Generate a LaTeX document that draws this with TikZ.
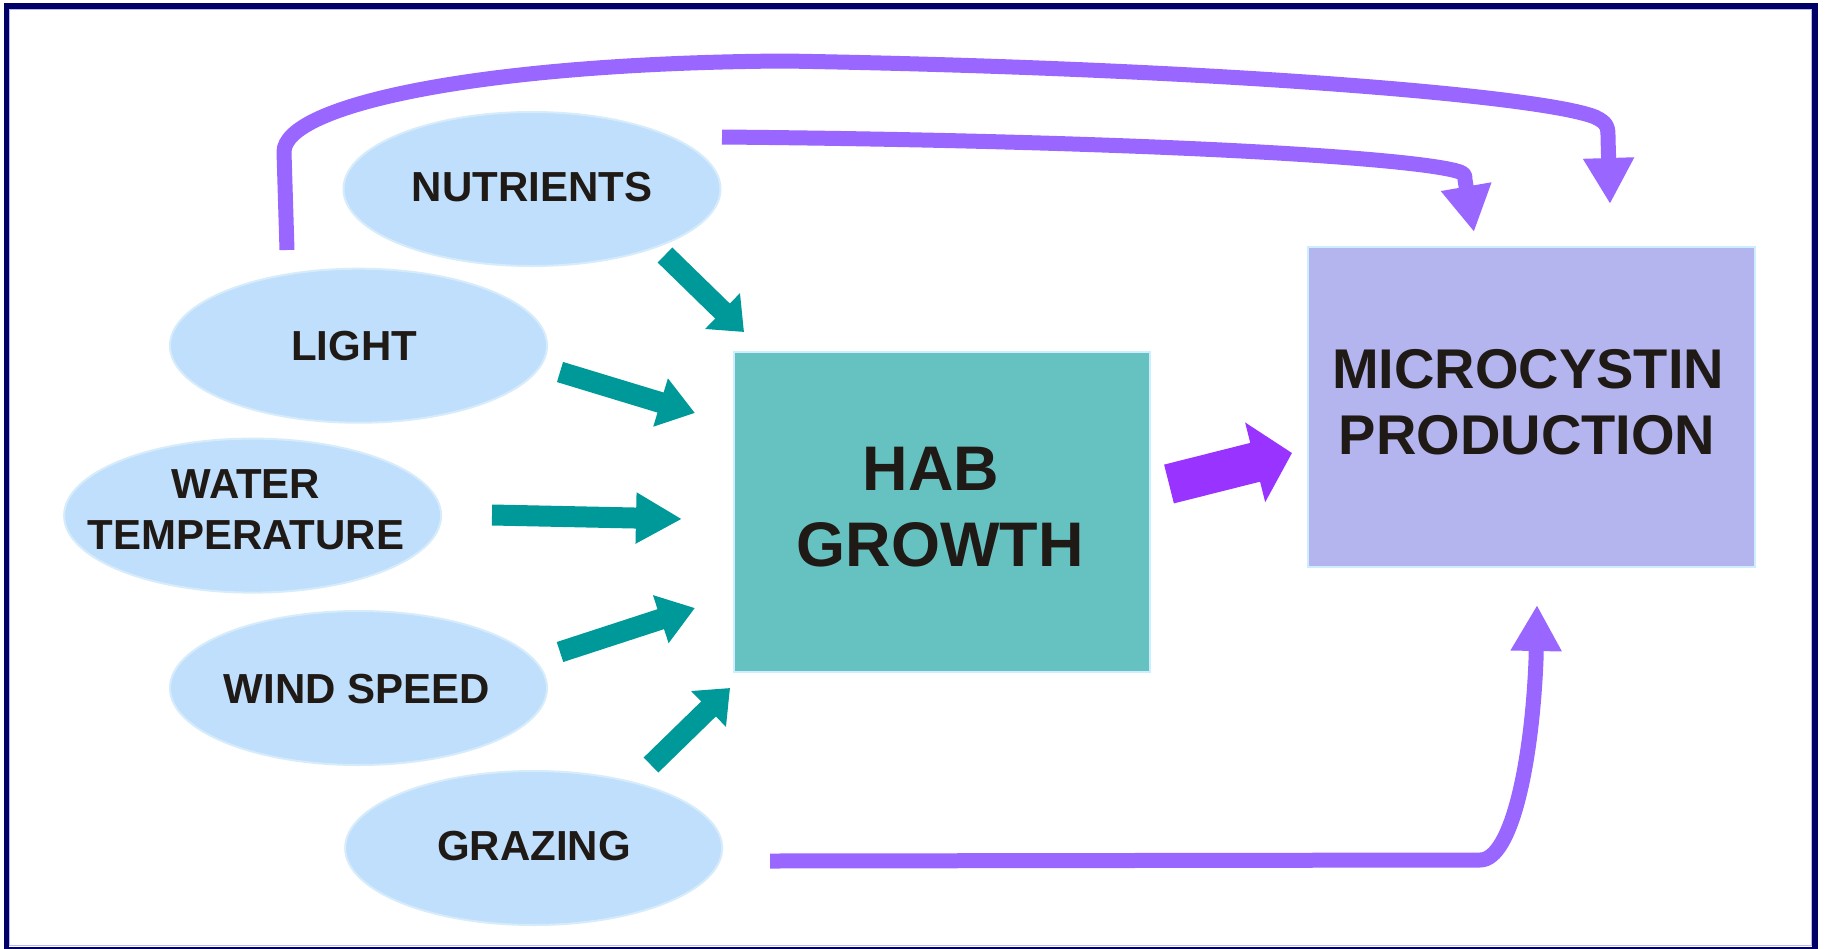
\documentclass[tikz,border=0pt]{standalone}
\usepackage{fontspec}
\setmainfont{Liberation Sans}
\usetikzlibrary{shapes.geometric,arrows.meta}

\definecolor{frame}{HTML}{000066}
\definecolor{frameinner}{HTML}{B8B8F0}
\definecolor{ellfill}{HTML}{BFDFFD}
\definecolor{elledge}{HTML}{D6ECFB}
\definecolor{habfill}{HTML}{66C2C0}
\definecolor{micfill}{HTML}{B4B4EE}
\definecolor{boxedge}{HTML}{CCEEFF}
\definecolor{tealarr}{HTML}{009999}
\definecolor{vivid}{HTML}{9933FF}
\definecolor{lilac}{HTML}{9966FF}
\definecolor{ink}{HTML}{201A17}

\tikzset{
  factor/.style={ellipse, fill=ellfill, draw=elledge, line width=2pt,
    minimum width=377pt, minimum height=154pt, inner sep=0pt},
  flabel/.style={text=ink, font=\fontsize{42}{51}\selectfont\bfseries,
    align=center, inner sep=0pt},
  stage/.style={rectangle, draw=boxedge, line width=2pt, inner sep=0pt},
  habtext/.style={text=ink, inner sep=0pt, font=\fontsize{63}{75}\selectfont\bfseries},
  mictext/.style={text=ink, inner sep=0pt, font=\fontsize{56}{65}\selectfont\bfseries},
  driver/.style={draw=tealarr, line width=21pt,
    -{Triangle[width=48pt,length=#1]}},
  driver/.default=34pt,
  feed/.style={draw=lilac, line width=15pt, line join=round,
    -{Triangle[width=48pt,length=46pt]}},
  output/.style={draw=vivid, line width=40pt,
    -{Triangle[width=80pt,length=38pt]}},
}

\begin{document}
\begin{tikzpicture}[x=1pt,y=-1pt]
\useasboundingbox (0,0) rectangle (1825,948);
\fill[white] (0,0) rectangle (1825,948);

% frame
\draw[frame, line width=5.5pt] (6.5,6) rectangle (1815,949.5);
\draw[frameinner, line width=1pt] (9.8,9.3) rectangle (1811.7,945.5);

% driving factors
\node[factor] (nut) at (532,189) {};
\node[flabel] (nut-t) at (532,187) {NUTRIENTS};
\node[factor] (light) at (358.5,345.7) {};
\node[flabel] (light-t) at (354,346) {LIGHT};
\node[factor] (water) at (252.6,515.6) {};
\node[flabel] (water-t) at (246,510) {WATER\\TEMPERATURE};
\node[factor] (wind) at (358.5,688) {};
\node[flabel] (wind-t) at (357,689) {WIND SPEED};
\node[factor] (graz) at (533.7,848) {};
\node[flabel] (graz-t) at (534,846) {GRAZING};

% stages
\node[stage, fill=habfill, minimum width=416pt, minimum height=320pt] (hab) at (942,511.5) {};
\node[habtext] (hab-t1) at (931,469) {HAB};
\node[habtext] (hab-t2) at (940,545) {GROWTH};
\node[stage, fill=micfill, minimum width=447pt, minimum height=320pt] (micro) at (1531.5,406.7) {};
\node[mictext] (micro-t1) at (1528,369) {MICROCYSTIN};
\node[mictext] (micro-t2) at (1527,435) {PRODUCTION};

% arrow ends
\coordinate (d1a) at (665,255);  \coordinate (d1b) at (744,332);
\coordinate (d2a) at (560,372);  \coordinate (d2b) at (695,413);
\coordinate (d3a) at (492,515);  \coordinate (d3b) at (682,519);
\coordinate (d4a) at (560,652);  \coordinate (d4b) at (695,608);
\coordinate (d5a) at (651,765);  \coordinate (d5b) at (730,688);
\coordinate (g1) at (1169,484);  \coordinate (g2) at (1292,453);
\coordinate (fa0) at (287,250);  \coordinate (fa1) at (1610,204);
\coordinate (fb0) at (722,137);  \coordinate (fb1) at (1474,232);
\coordinate (fc0) at (770,861);  \coordinate (fc1) at (1537,605);

% factors into growth
\draw[driver=30pt] (d1a) -- (d1b);
\draw[driver=36pt] (d2a) -- (d2b);
\draw[driver=46pt] (d3a) -- (d3b);
\draw[driver=36pt] (d4a) -- (d4b);
\draw[driver=30pt] (d5a) -- (d5b);

% growth into toxin production
\draw[output] (g1) -- (g2);

% direct influences on toxin production
\draw[feed] (fa0) -- (284,152) .. controls (284,105) and (480,63) .. (785,61)
  .. controls (1200,68) and (1540,95) .. (1595,117)
  .. controls (1608,123) and (1608,128) .. (1608,138) -- (fa1);
\draw[feed] (fb0) .. controls (1150,141) and (1420,158) .. (1460,172)
  .. controls (1465,174) and (1465,176) .. (1465,180) -- (fb1);
\draw[feed] (fc0) -- (1480,860) .. controls (1512,860) and (1532,760) .. (1536,660) -- (fc1);
\end{tikzpicture}
\end{document}
